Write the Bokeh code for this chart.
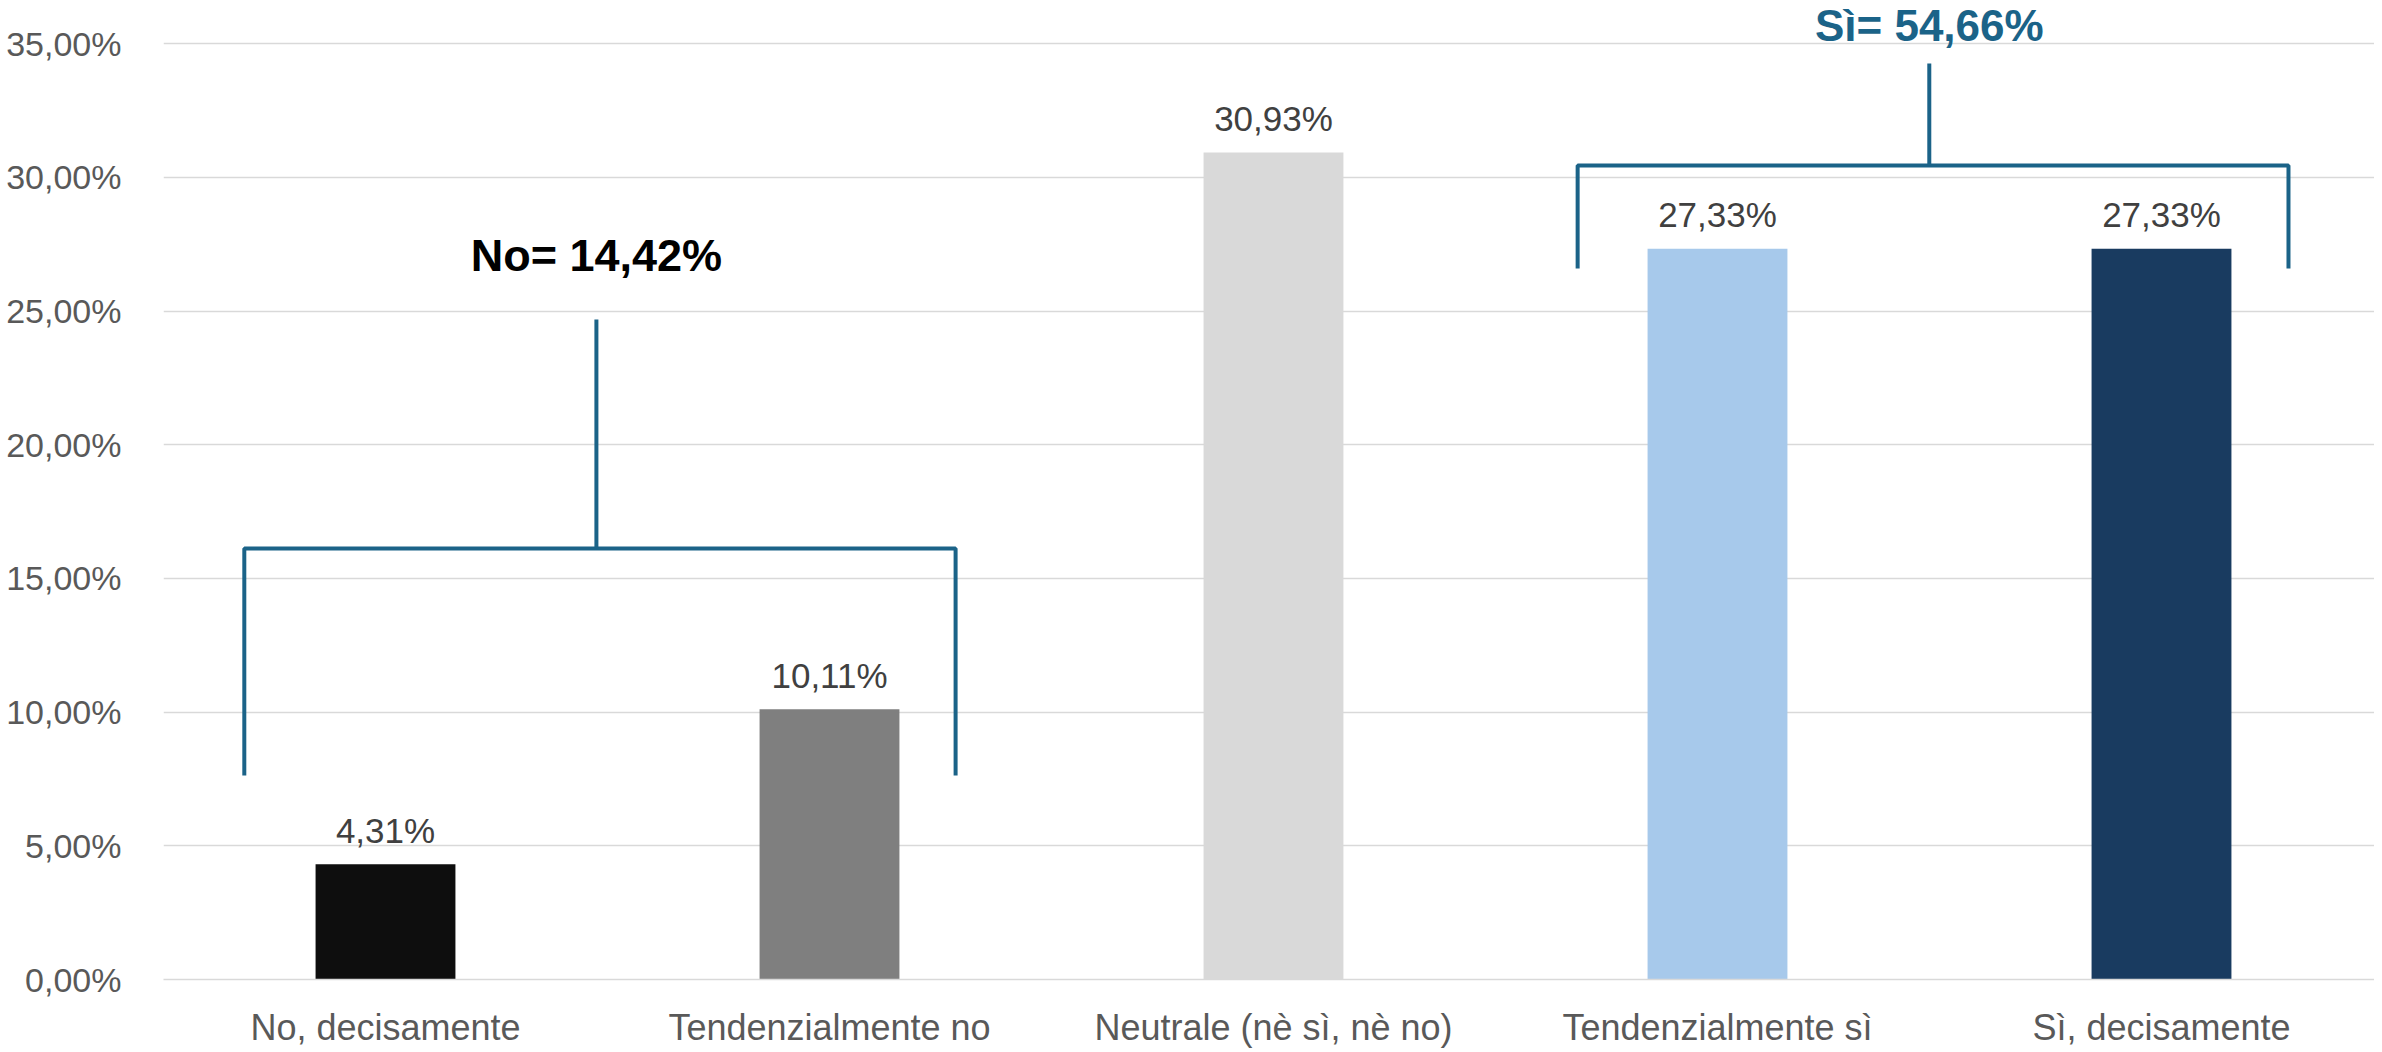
from bokeh.plotting import figure
from bokeh.models import Range1d, FixedTicker, ColumnDataSource
from bokeh.core.properties import value
from bokeh.embed import file_html
from bokeh.resources import INLINE

# ---- data ----
categories = ["No, decisamente", "Tendenzialmente no", "Neutrale (nè sì, nè no)",
              "Tendenzialmente sì", "Sì, decisamente"]
values = [4.31, 10.11, 30.93, 27.33, 27.33]
bar_colors = ["#0E0E0E", "#7F7F7F", "#D9D9D9", "#A7C9EB", "#193B60"]
y_ticks = [0, 5, 10, 15, 20, 25, 30, 35]
no_group = [0, 1]
si_group = [3, 4]


def fmt(v):
    return f"{v:.2f}".replace(".", ",") + "%"


xs = list(range(1, len(categories) + 1))
labels = [fmt(v) for v in values]

FRAME_W, FRAME_H = 2211, 971
PX_PER_CAT = 444.0
PX_PER_PCT = 26.74

p = figure(frame_width=FRAME_W, frame_height=FRAME_H,
           x_range=Range1d(0.5, 0.5 + FRAME_W / PX_PER_CAT),
           y_range=Range1d(0, FRAME_H / PX_PER_PCT),
           output_backend="svg", toolbar_location=None,
           min_border_left=163, min_border_right=0, min_border_top=8,
           min_border_bottom=71)
p.outline_line_color = None
p.background_fill_color = "white"
p.border_fill_color = "white"

src = ColumnDataSource(dict(x=xs, top=values, color=bar_colors, label=labels))
p.vbar(x="x", top="top", width=0.315, bottom=0, fill_color="color",
       line_color=None, source=src)
p.text(x="x", y="top", text="label", source=src, y_offset=-34,
       text_align="center", text_baseline="alphabetic",
       text_font=value("Liberation Sans"), text_font_size="35px",
       text_color="#404040")

# axes
p.yaxis.ticker = FixedTicker(ticks=y_ticks)
p.yaxis.major_label_overrides = {t: fmt(t) for t in y_ticks}
p.yaxis.axis_line_color = None
p.yaxis.major_tick_line_color = None
p.yaxis.minor_tick_line_color = None
p.yaxis.major_label_text_font = "Liberation Sans"
p.yaxis.major_label_text_font_size = "34px"
p.yaxis.major_label_text_color = "#595959"
p.yaxis.major_label_standoff = 36

p.xaxis.ticker = FixedTicker(ticks=xs)
p.xaxis.major_label_overrides = {x: c for x, c in zip(xs, categories)}
p.xaxis.axis_line_color = "#D9D9D9"
p.xaxis.axis_line_width = 1.5
p.xaxis.major_tick_line_color = None
p.xaxis.minor_tick_line_color = None
p.xaxis.major_label_text_font = "Liberation Sans"
p.xaxis.major_label_text_font_size = "36px"
p.xaxis.major_label_text_color = "#595959"
p.xaxis.major_label_standoff = 21

p.xgrid.grid_line_color = None
p.ygrid.ticker = FixedTicker(ticks=y_ticks)
p.ygrid.grid_line_color = "#D9D9D9"
p.ygrid.grid_line_width = 1.5

# ---- brackets ----
BRACKET_COLOR = "#1B6388"


def bracket(group, left_off, right_off, stem_off, level, foot, top):
    x0 = xs[group[0]] - left_off
    x1 = xs[group[-1]] + right_off
    xm = xs[group[0]] + stem_off
    p.line([x0, x0, x1, x1], [foot, level, level, foot],
           line_color=BRACKET_COLOR, line_width=4)
    p.line([xm, xm], [level, top], line_color=BRACKET_COLOR, line_width=4)
    total = sum(values[i] for i in group)
    return xm, total


xm, tot = bracket(no_group, 0.318, 0.284, 0.475, 16.12, 7.63, 24.68)
p.text(x=[xm], y=[26.51], text=["No= " + fmt(tot)], text_align="center",
       y_offset=-15,
       text_baseline="alphabetic", text_font=value("Liberation Sans"),
       text_font_style="bold", text_font_size="45px", text_color="black")

xm, tot = bracket(si_group, 0.315, 0.286, 0.477, 30.44, 26.59, 34.26)
p.text(x=[xm], y=[35.15], text=["Sì= " + fmt(tot)], text_align="center",
       y_offset=-14,
       text_baseline="alphabetic", text_font=value("Liberation Sans"),
       text_font_style="bold", text_font_size="44px", text_color=BRACKET_COLOR)

open("out.html", "w").write(file_html(p, INLINE))
